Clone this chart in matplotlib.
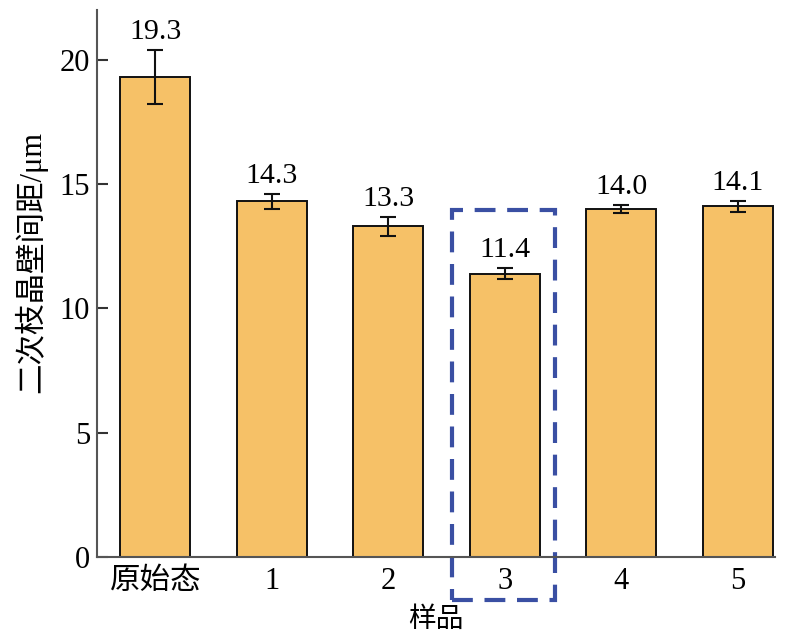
import matplotlib.pyplot as plt
from matplotlib.patches import Rectangle

# 数据
samples = ['原始态', '1', '2', '3', '4', '5']
spacing = [19.3, 14.3, 13.3, 11.4, 14.0, 14.1]
errors = [1.1, 0.3, 0.38, 0.22, 0.15, 0.22]
highlight = 3

plt.rcParams['font.family'] = ['Liberation Serif', 'Noto Sans CJK SC']

fig = plt.figure(figsize=(7.99, 6.41), dpi=100)
ax = fig.add_axes([0.1214, 0.131, 0.8486, 0.8534])

x = list(range(len(samples)))
ax.bar(x, spacing, width=0.6, color='#F6C167', edgecolor='#111111', linewidth=1.4,
       yerr=errors, capsize=6, error_kw=dict(elinewidth=1.5, capthick=1.5, ecolor='#111111'))

for xi, v, e in zip(x, spacing, errors):
    ax.text(xi, v + e + 0.2, f'{v:.1f}', ha='center', va='bottom', fontsize=21.5)

# 虚线框
rect = Rectangle((highlight - 0.45, -1.73), 0.88, 15.67, fill=False,
                 edgecolor='#3A4FA3', linewidth=3, linestyle=(0, (5, 2.8)), clip_on=False)
ax.add_patch(rect)

ax.set_xlim(-0.5, 5.32)
ax.set_ylim(0, 22)
ax.set_yticks([0, 5, 10, 15, 20])
ax.set_xticks(x)
ax.set_xticklabels(samples)

for s in ['top', 'right']:
    ax.spines[s].set_visible(False)
for s in ['left', 'bottom']:
    ax.spines[s].set_color('#555555')
    ax.spines[s].set_linewidth(1.5)

ax.tick_params(axis='y', direction='in', length=8, width=1.5, color='#333333',
               labelsize=22, pad=5)
ax.tick_params(axis='x', length=0, labelsize=22, pad=7)

ax.set_ylabel('二次枝晶壁间距/μm', fontsize=22)
ax.yaxis.set_label_coords(-0.074, 0.54)
ax.set_xlabel('样品', fontsize=20, labelpad=8)

fig.savefig('out.png', dpi=100)
